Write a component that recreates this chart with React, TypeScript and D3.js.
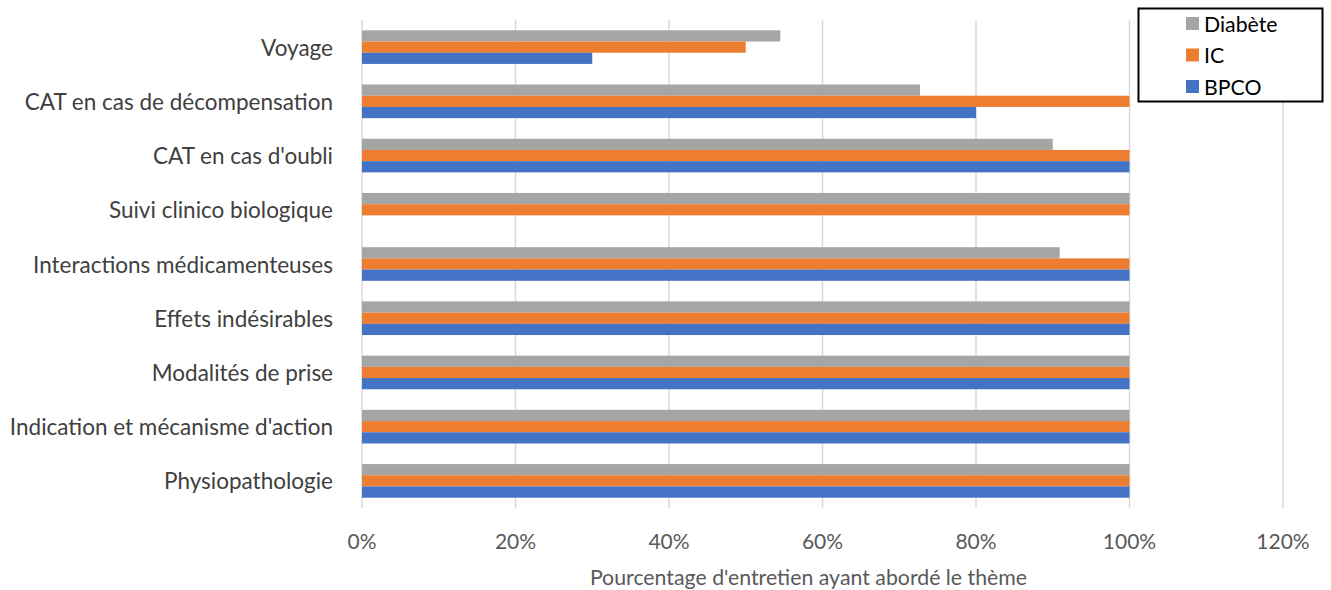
import React from "react";
import * as d3 from "d3";

const categories = [
  "Voyage",
  "CAT en cas de décompensation",
  "CAT en cas d'oubli",
  "Suivi clinico biologique",
  "Interactions médicamenteuses",
  "Effets indésirables",
  "Modalités de prise",
  "Indication et mécanisme d'action",
  "Physiopathologie",
];
const seriesNames = ["Diabète", "IC", "BPCO"];
const diabete = [54.5, 72.7, 90, 100, 90.9, 100, 100, 100, 100];
const ic = [50, 100, 100, 100, 100, 100, 100, 100, 100];
const bpco = [30, 80, 100, 0, 100, 100, 100, 100, 100];
const xTicks = [0, 20, 40, 60, 80, 100, 120];
const colors = ["#A5A5A5", "#ED7D31", "#4472C4"];
const axisTitle = "Pourcentage d'entretien ayant abordé le thème";

const W = 1331;
const H = 590;
const FONT = "Lato, Carlito, Calibri, sans-serif";

export default function App() {
  const seriesValues = [diabete, ic, bpco];
  const x = d3.scaleLinear().domain([0, 120]).range([362, 1283]);
  const y = d3.scaleBand<string>().domain(categories).range([20, 508]).paddingInner(0.38).paddingOuter(0.19);
  const inner = d3.scaleBand<string>().domain(seriesNames).range([0, y.bandwidth()]);

  return (
    <svg width={W} height={H} style={{ position: "fixed", left: 0, top: 0, background: "#fff" }} fontFamily={FONT}>
      <rect x={0} y={0} width={W} height={H} fill="#fff" />
      {xTicks.map((t) => (
        <line key={t} x1={x(t)} x2={x(t)} y1={20} y2={508} stroke="#D9D9D9" strokeWidth={1.5} />
      ))}
      {categories.map((c, i) => (
        <g key={c}>
          {seriesNames.map((s, j) => {
            const v = seriesValues[j][i];
            if (!v) return null;
            return (
              <rect
                key={s}
                x={x(0)}
                y={(y(c) as number) + (inner(s) as number)}
                width={x(v) - x(0)}
                height={inner.bandwidth()}
                fill={colors[j]}
              />
            );
          })}
          <text
            x={333}
            y={(y(c) as number) + y.bandwidth() / 2}
            textAnchor="end"
            dominantBaseline="central"
            fontSize={22.5}
            fill="#404040"
          >
            {c}
          </text>
        </g>
      ))}
      {xTicks.map((t) => (
        <text key={t} x={x(t)} y={540} textAnchor="middle" dominantBaseline="central" fontSize={21} fill="#595959">
          {t}%
        </text>
      ))}
      <text x={808.5} y={577} textAnchor="middle" dominantBaseline="central" fontSize={21.3} fill="#595959">
        {axisTitle}
      </text>
      <rect x={1138.5} y={8.5} width={184} height={93} fill="#fff" stroke="#000" strokeWidth={2} />
      {seriesNames.map((s, j) => (
        <g key={s}>
          <rect x={1186} y={17 + j * 31.5} width={13} height={13} fill={colors[j]} />
          <text x={1204} y={23.5 + j * 31.5} dominantBaseline="central" fontSize={21.3} fill="#000">
            {s}
          </text>
        </g>
      ))}
    </svg>
  );
}
